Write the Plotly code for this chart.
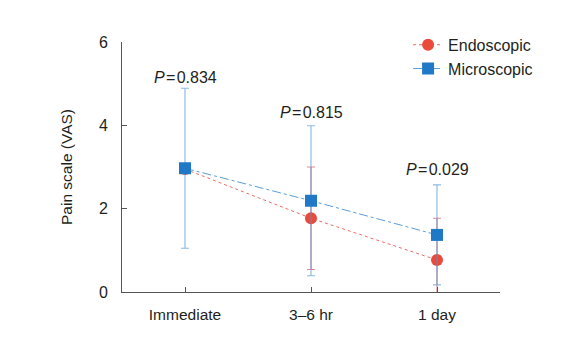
import plotly.graph_objects as go

categories = ["Immediate", "3–6 hr", "1 day"]
endo_mean = [2.95, 1.77, 0.77]
endo_err = [0.0, 1.23, 1.00]
micro_mean = [2.97, 2.19, 1.37]
micro_err = [1.92, 1.80, 1.20]
p_labels = ["0.834", "0.815", "0.029"]
p_y = [5.16, 4.32, 2.93]
y_ticks = [0, 2, 4, 6]

xpos = list(range(len(categories)))
FONT = "Liberation Sans, Arial, sans-serif"
TXT = "#231f20"

fig = go.Figure()
fig.add_trace(go.Scatter(
    x=xpos, y=endo_mean, name="Endoscopic", mode="lines+markers",
    line=dict(color="rgba(232,80,70,0.85)", width=1, dash="dot"),
    marker=dict(symbol="circle", size=12, color="#ea4a3c"),
    error_y=dict(type="data", array=endo_err, color="rgba(215,90,100,0.7)",
                 thickness=1.2, width=4),
))
fig.add_trace(go.Scatter(
    x=xpos, y=micro_mean, name="Microscopic", mode="lines+markers",
    line=dict(color="rgba(60,140,210,0.85)", width=1, dash="dashdot"),
    marker=dict(symbol="square", size=12, color="#2079c7"),
    error_y=dict(type="data", array=micro_err, color="rgba(80,150,215,0.65)",
                 thickness=1.2, width=4),
))

for xi, lab, yy in zip(xpos, p_labels, p_y):
    fig.add_annotation(x=xi, y=yy, xref="x", yref="y",
                       text="<i>P</i>\u200a=\u200a" + lab, showarrow=False,
                       font=dict(family=FONT, size=16, color=TXT),
                       xanchor="center", yanchor="middle")

fig.update_layout(
    width=574, height=339,
    margin=dict(l=114, r=82, t=34, b=55, autoexpand=False),
    paper_bgcolor="white", plot_bgcolor="white",
    font=dict(family=FONT, color=TXT, size=15),
    showlegend=True,
    legend=dict(xref="container", yref="container", x=0.697, y=0.9415,
                xanchor="left", yanchor="top",
                font=dict(family=FONT, size=16, color=TXT),
                bgcolor="rgba(0,0,0,0)", tracegroupgap=0),
    xaxis=dict(range=[-0.5, 2.5], tickvals=xpos, ticktext=categories,
               showgrid=False, zeroline=False, showline=True, automargin=False,
               linecolor="#555", linewidth=1, ticks="inside", ticklen=5,
               tickcolor="#555", ticklabelstandoff=8,
               tickfont=dict(size=15.5, color=TXT)),
    yaxis=dict(range=[0, 6], tickvals=y_ticks, showgrid=False, zeroline=False,
               showline=True, automargin=False, linecolor="#555", linewidth=1,
               ticks="inside", ticklen=5, tickcolor="#555",
               ticklabelstandoff=10,
               tickfont=dict(size=16, color=TXT),
               title=dict(text="Pain scale (VAS)", font=dict(size=15.5, color=TXT),
                          standoff=22)),
)

fig.write_html("out.html")
